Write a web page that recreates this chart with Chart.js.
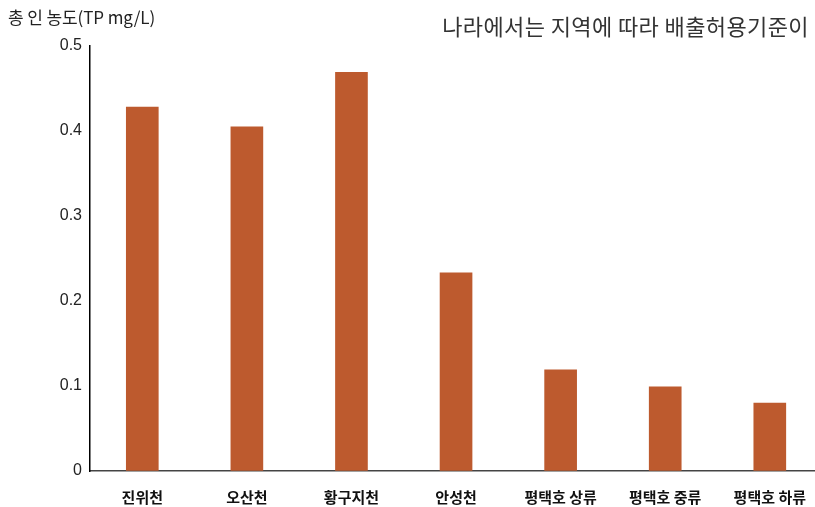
<!DOCTYPE html>
<html>
<head>
<meta charset="utf-8">
<script src="https://cdn.jsdelivr.net/npm/chart.js@4/dist/chart.umd.min.js"></script>
<style>
  html, body { margin: 0; padding: 0; background: #fff; overflow: hidden; width: 815px; height: 507px; }
  #wrap { position: absolute; left: 0; top: 0; width: 823px; height: 507px; }
  .ylab { position: absolute; left: 8px; top: 4px; font: 17px/26px "Noto Sans CJK KR", "Liberation Sans", sans-serif; color: #222; letter-spacing: -0.1px; white-space: nowrap; }
  .note { position: absolute; right: 6px; top: 9px; font: 22px/32px "Noto Sans CJK KR", sans-serif; color: #333; letter-spacing: 0.4px; white-space: nowrap; }
</style>
</head>
<body>
<div id="wrap"><canvas id="c" width="823" height="507"></canvas></div>
<div class="ylab">총 인 농도(TP mg/L)</div>
<div class="note">나라에서는 지역에 따라 배출허용기준이</div>
<script>
const categories = ["진위천", "오산천", "황구지천", "안성천", "평택호 상류", "평택호 중류", "평택호 하류"];
const tpValues = [0.428, 0.405, 0.469, 0.233, 0.119, 0.099, 0.080];
const yTicks = [0, 0.1, 0.2, 0.3, 0.4, 0.5];

new Chart(document.getElementById('c'), {
  type: 'bar',
  data: {
    labels: categories,
    datasets: [{
      data: tpValues,
      backgroundColor: '#BD5A2E',
      borderWidth: 0,
      barThickness: 32
    }]
  },
  options: {
    responsive: false,
    animation: false,
    devicePixelRatio: 1,
    layout: { padding: { top: 46, left: 0, right: 0, bottom: 0 } },
    plugins: { legend: { display: false }, tooltip: { enabled: false }, title: { display: false } },
    scales: {
      x: {
        grid: { display: true, drawOnChartArea: false, drawTicks: false },
        border: { display: true, color: '#444', width: 1.5 },
        ticks: {
          padding: 17,
          color: '#111',
          font: { family: '"Noto Sans CJK KR", sans-serif', size: 15, weight: 'bold' },
          maxRotation: 0, autoSkip: false
        },
        afterFit: s => { s.height = 36; }
      },
      y: {
        min: 0, max: 0.5,
        afterBuildTicks: s => { s.ticks = yTicks.map(v => ({ value: v })); },
        grid: { display: true, drawOnChartArea: false, drawTicks: false },
        border: { display: true, color: '#000', width: 1.5 },
        ticks: {
          padding: 8,
          color: '#222',
          font: { family: '"Liberation Sans", Arial, sans-serif', size: 16 },
          callback: v => v === 0 ? '0' : v.toFixed(1)
        },
        afterFit: s => { s.width = 90; }
      }
    }
  }
});
</script>
</body>
</html>
